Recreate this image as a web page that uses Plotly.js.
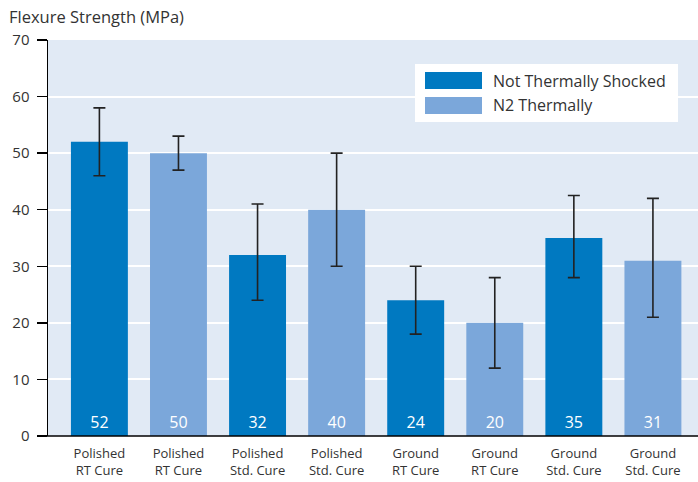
<!DOCTYPE html>
<html>
<head>
<meta charset="utf-8">
<script src="https://cdn.plot.ly/plotly-3.0.1.min.js"></script>
<style>html,body{margin:0;padding:0;background:#fff;}#chart{width:698px;height:482px;}</style>
</head>
<body>
<div id="chart"></div>
<script>
var categories = ["Polished<br>RT Cure","Polished<br>RT Cure","Polished<br>Std. Cure","Polished<br>Std. Cure","Ground<br>RT Cure","Ground<br>RT Cure","Ground<br>Std. Cure","Ground<br>Std. Cure"];
var positions = [0,1,2,3,4,5,6,7];
var values = [52,50,32,40,24,20,35,31];
var errUpper = [58,53,41,50,30,28,42.5,42];
var errLower = [46,47,24,30,18,12,28,21];
var groups = [0,1,0,1,0,1,0,1];
var seriesNames = ["Not Thermally Shocked","N2 Thermally"];
var seriesColors = ["#0079c1","#7ba7da"];
var yTicks = [0,10,20,30,40,50,60,70];

var traces = [0,1].map(function(g){
  var xs=[],ys=[],up=[],dn=[];
  for (var i=0;i<values.length;i++){
    if (groups[i]===g){
      xs.push(positions[i]); ys.push(values[i]);
      up.push(errUpper[i]-values[i]); dn.push(values[i]-errLower[i]);
    }
  }
  return {
    type:'bar', x:xs, y:ys, name:seriesNames[g],
    marker:{color:seriesColors[g]}, width:0.72,
    text:ys.map(String), textposition:'inside', insidetextanchor:'start',
    textfont:{color:'#ffffff', size:16, family:'Open Sans, sans-serif'},
    error_y:{type:'data', symmetric:false, array:up, arrayminus:dn, color:'#222', thickness:1.6, width:6},
    showlegend:false, hoverinfo:'skip'
  };
});

var px = function(p){return (p-48)/650;};
var py = function(p){return (436-p)/396;};

var layout = {
  width:698, height:482,
  margin:{l:48, r:0, t:40, b:46},
  paper_bgcolor:'#ffffff', plot_bgcolor:'#e1eaf5',
  font:{family:'Open Sans, sans-serif', color:'#333'},
  barmode:'overlay',
  xaxis:{
    range:[-0.65,7.57], tickvals:positions, ticktext:categories,
    showgrid:false, zeroline:false, showline:false, ticks:'',
    tickfont:{size:13, color:'#333'}, ticklabelstandoff:8, fixedrange:true
  },
  yaxis:{
    range:[0,70], tickvals:yTicks, showgrid:true, gridcolor:'#ffffff', gridwidth:2,
    zeroline:false, showline:true, linecolor:'#000', linewidth:1.5,
    ticks:'outside', ticklen:10, tickcolor:'#000', tickwidth:1.5,
    tickfont:{size:15, color:'#333'}, ticklabelstandoff:4
  },
  shapes:[
    {type:'line', xref:'paper', yref:'paper', x0:-0.012, x1:1, y0:0, y1:0, line:{color:'#000', width:1.5}},
    {type:'rect', xref:'paper', yref:'paper', x0:px(415), x1:px(678), y0:py(122), y1:py(64), fillcolor:'#ffffff', line:{width:0}},
    {type:'rect', xref:'paper', yref:'paper', x0:px(425), x1:px(482), y0:py(89), y1:py(72), fillcolor:seriesColors[0], line:{width:0}},
    {type:'rect', xref:'paper', yref:'paper', x0:px(425), x1:px(482), y0:py(114), y1:py(97), fillcolor:seriesColors[1], line:{width:0}}
  ],
  annotations:[
    {xref:'paper', yref:'paper', x:px(491), y:py(81), xanchor:'left', yanchor:'middle', text:seriesNames[0], showarrow:false, font:{size:16, color:'#333'}},
    {xref:'paper', yref:'paper', x:px(491), y:py(105), xanchor:'left', yanchor:'middle', text:seriesNames[1], showarrow:false, font:{size:16, color:'#333'}},
    {xref:'paper', yref:'paper', x:px(7), y:py(16), xanchor:'left', yanchor:'middle', text:'Flexure Strength (MPa)', showarrow:false, font:{size:16.5, color:'#333'}}
  ]
};

Plotly.newPlot('chart', traces, layout, {displayModeBar:false, staticPlot:true});
</script>
</body>
</html>
